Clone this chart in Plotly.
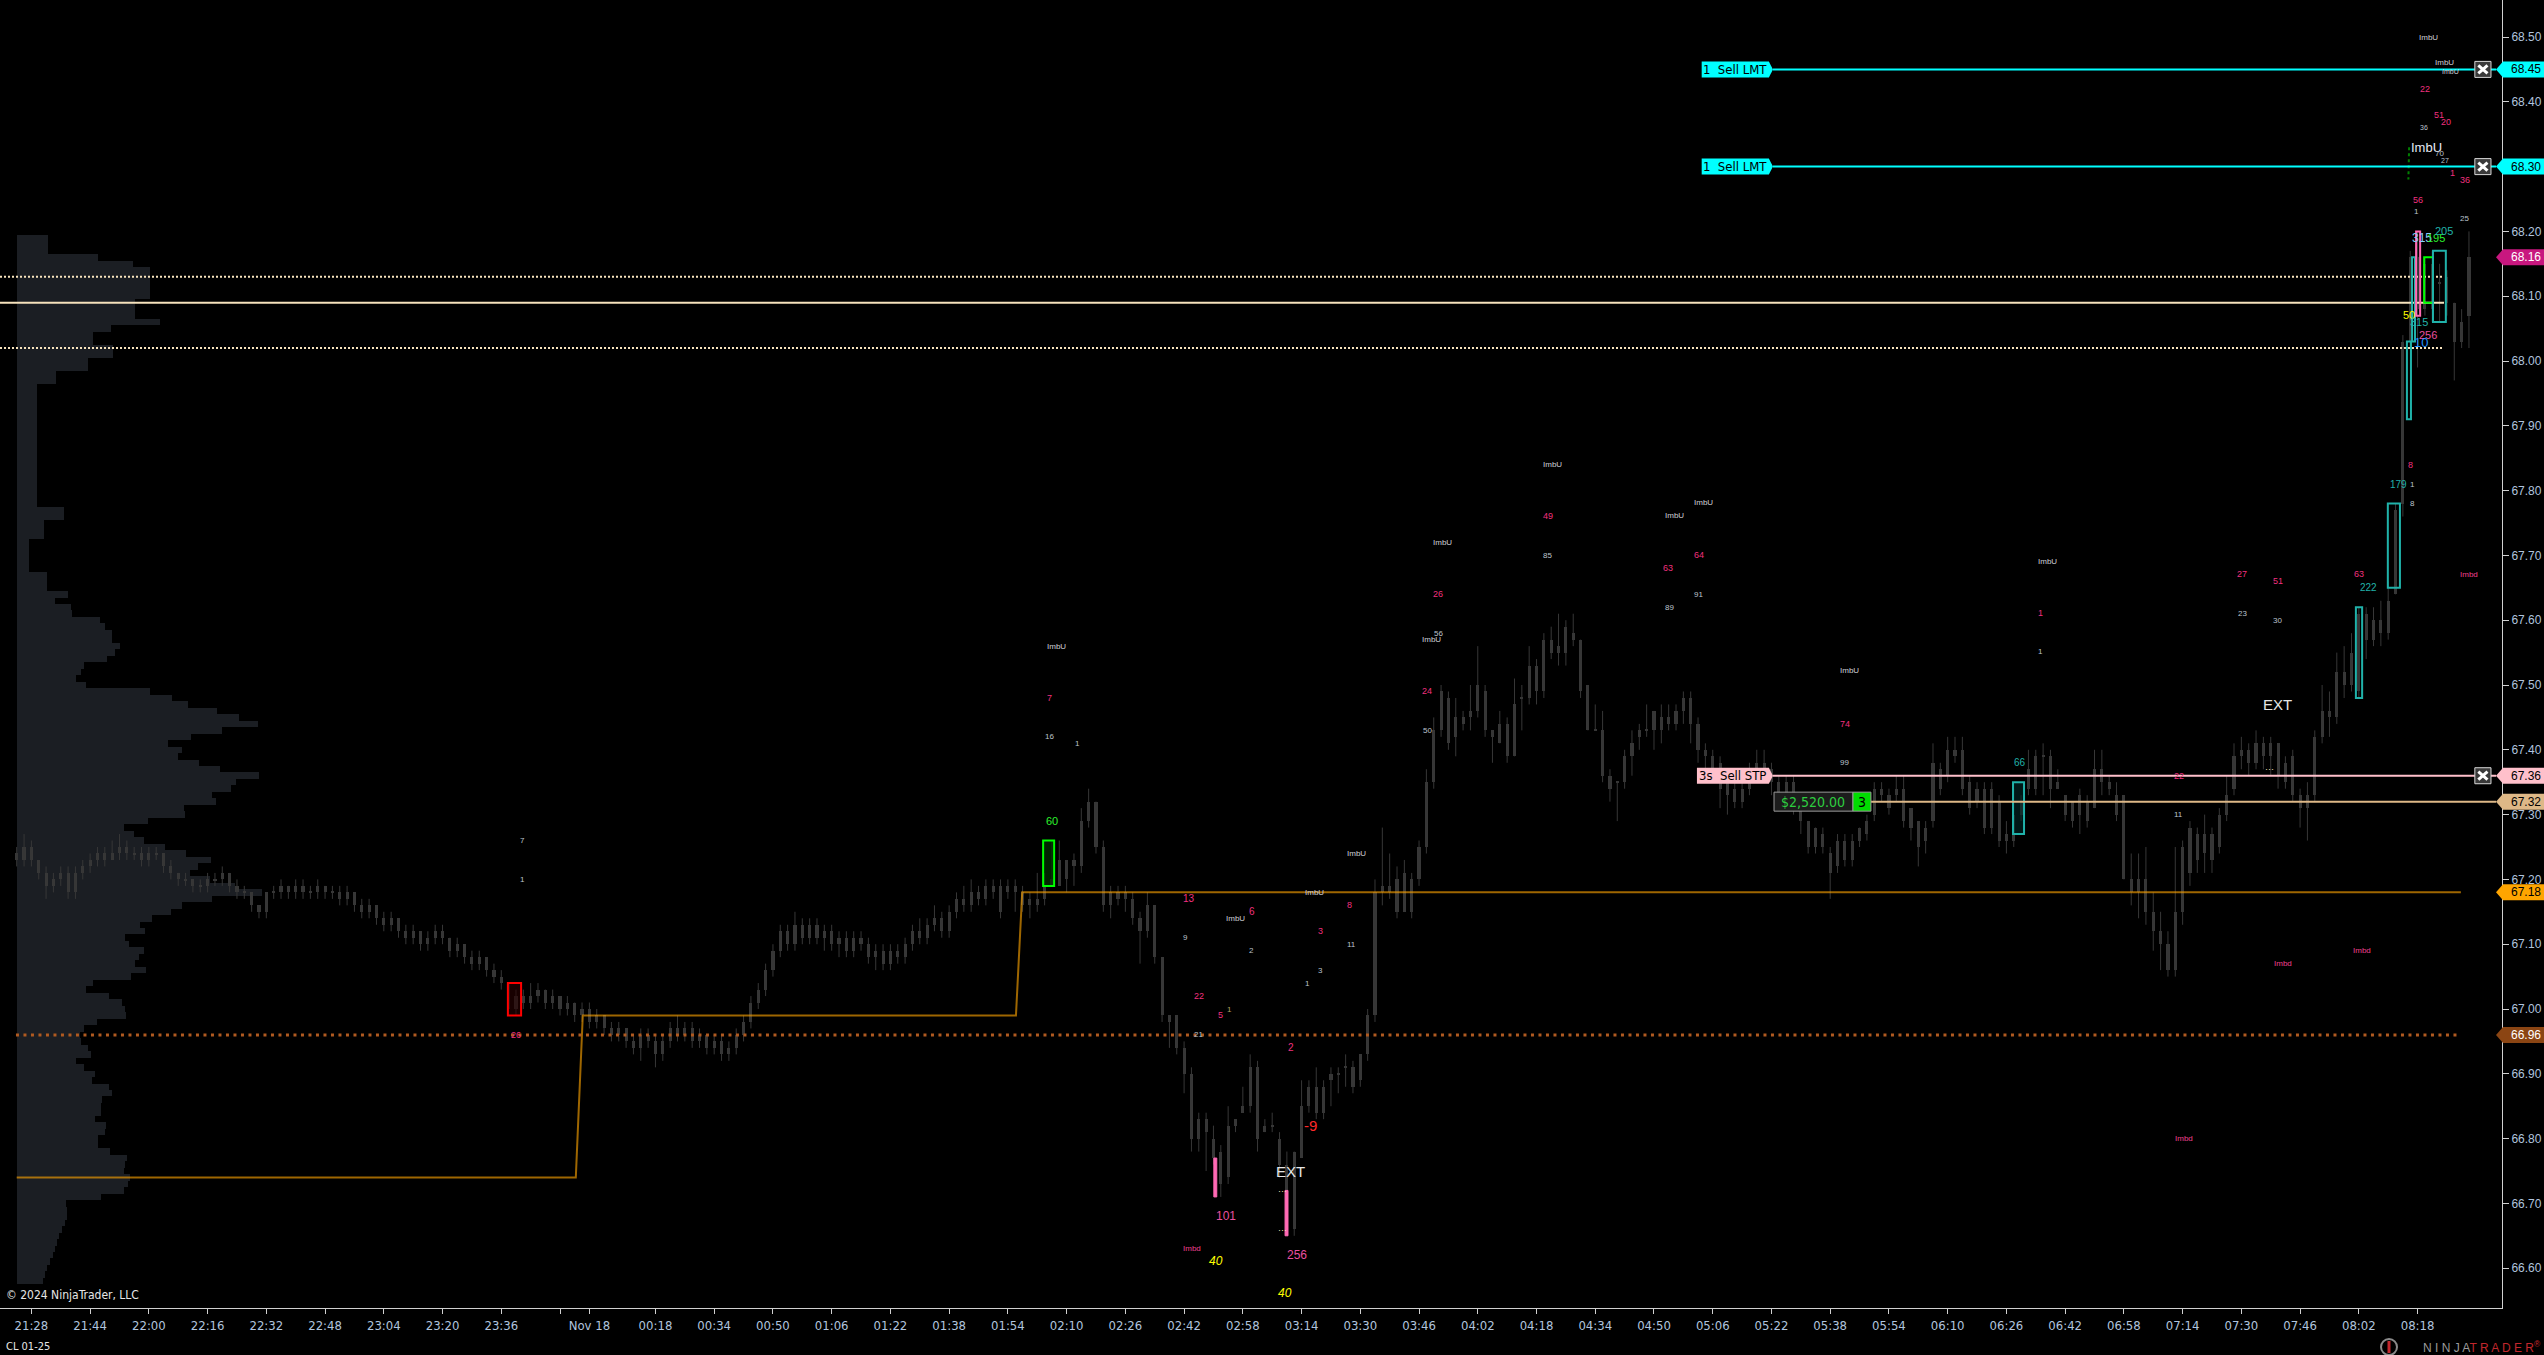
import plotly.graph_objects as go

# ------------------------------------------------------------------ data
# 2-minute bars, time axis in minutes after 21:28 ; prices in cents above 66.00
BAR_T0 = -4          # first bar at 21:24
BAR_STEP = 2
opens_c = [124,123,125,123,121,119,121,121,118,121,122,123,124,123,124,125,124,124,123,124,
           124,122,121,120,120,119,119,120,120,121,119,118,118,116,115,118,118,119,118,119,
           118,118,119,118,118,117,118,116,115,116,114,113,114,112,111,112,110,111,112,111,
           109,110,108,107,108,106,105,104,100,102,101,102,103,101,102,100,101,99,100,98,
           99,97,96,97,95,94,96,95,93,95,97,96,97,95,96,94,95,93,94,96,
           98,101,103,106,109,112,110,113,111,113,111,112,110,111,109,111,110,108,109,107,
           109,108,110,112,111,113,114,112,115,117,116,118,117,119,119,118,118,118,116,117,
           117,119,119,123,123,122,129,132,125,116,118,118,117,114,112,116,108,99,99,94,
           90,80,83,80,78,74,83,84,85,91,81,82,80,76,66,77,85,84,88,89,
           90,91,88,89,93,99,118,119,120,115,120,120,125,135,143,148,142,145,145,146,
           149,143,141,144,139,148,148,153,149,157,155,155,158,157,150,143,143,136,135,135,
           139,142,143,143,145,144,144,146,148,144,140,139,138,136,134,132,134,136,138,137,
           135,133,135,131,129,125,127,124,122,126,123,126,127,130,134,133,133,134,131,129,
           126,129,137,136,140,140,135,134,134,128,132,127,126,130,134,134,139,139,134,133,
           132,130,132,131,137,135,133,133,120,118,120,115,112,110,106,115,121,127,124,127,
           125,130,134,139,140,138,141,139,141,138,139,133,131,133,142,146,145,152,150,149,
           161,157,160,158,164,178,203,216,208,215,212,213,209,203,207]
closes_c = [123,125,123,121,119,120,120,118,121,122,123,124,123,124,125,124,124,123,124,124,
            122,121,120,120,119,119,120,120,121,119,118,118,116,115,118,118,119,118,119,118,
            118,119,118,118,117,118,116,115,116,114,113,114,112,111,112,110,111,112,111,109,
            110,108,107,108,106,105,104,100,102,101,102,103,101,102,100,101,99,100,98,99,
            97,96,97,95,94,96,95,93,95,97,96,97,95,96,94,95,93,94,96,98,
            101,103,106,109,112,110,113,111,113,111,112,110,111,109,111,110,108,109,107,109,
            108,110,112,111,113,114,112,115,117,116,118,117,119,118,115,119,119,116,117,116,
            119,120,123,120,122,129,132,125,116,118,117,117,114,112,116,108,99,98,94,90,
            80,83,81,77,73,82,82,85,91,80,82,82,76,72,78,85,88,88,84,90,
            90,91,91,93,99,118,119,118,115,121,115,125,135,143,149,141,145,144,146,150,
            143,142,144,139,147,148,153,149,157,155,156,159,157,149,143,143,136,134,135,139,
            141,143,143,146,143,145,146,148,144,140,139,136,134,133,132,134,136,138,137,135,
            133,135,131,129,125,128,125,121,126,123,126,128,129,134,133,131,134,129,128,125,
            128,138,134,140,139,134,131,132,128,134,126,126,130,132,137,139,139,134,135,130,
            129,133,129,137,135,134,130,120,118,120,115,112,110,106,115,125,128,123,127,123,
            130,133,139,140,138,141,139,141,136,135,133,131,133,142,146,145,152,150,155,161,
            157,160,158,163,177,203,216,208,215,208,212,209,203,206,216]
highs_c = [125,127,126,123,122,121,122,122,122,123,124,125,125,126,127,126,125,125,125,125,
           124,123,121,121,120,120,121,121,122,121,120,119,118,116,118,119,120,119,120,120,
           119,120,119,119,119,119,118,117,117,116,115,115,114,113,113,112,112,113,113,111,
           111,110,109,109,108,107,106,104,103,103,104,104,103,103,102,102,101,101,101,100,
           99,98,98,97,96,97,97,96,96,98,99,98,98,97,96,96,96,95,97,99,
           102,104,107,110,113,113,115,114,114,114,113,113,112,112,112,112,111,110,110,110,
           110,111,113,114,114,116,115,116,118,119,120,119,120,120,120,120,120,119,118,121,
           121,126,126,123,124,131,134,132,126,119,119,119,118,115,118,116,108,99,99,95,
           91,84,84,82,79,85,83,88,93,92,83,84,81,78,78,89,89,91,89,91,
           91,93,92,93,100,120,128,124,122,123,121,126,137,145,150,149,148,146,150,156,
           150,143,146,145,151,150,156,154,158,159,161,160,161,157,150,147,146,137,135,140,
           143,144,147,146,147,147,147,149,149,145,141,140,139,137,135,136,138,140,140,138,
           136,136,136,132,129,128,128,125,127,127,127,128,130,135,135,134,136,136,131,129,
           129,141,138,142,142,142,136,135,135,135,133,129,134,133,140,140,141,140,137,133,
           132,134,133,140,140,136,135,133,124,124,125,118,115,112,125,126,129,128,130,128,
           131,136,141,142,141,143,142,142,141,139,140,134,135,143,150,149,155,156,158,162,
           162,162,163,166,178,204,217,220,216,217,215,214,209,208,220]
lows_c = [122,122,122,120,117,118,119,117,117,120,121,122,122,123,123,123,123,122,122,123,
          121,120,119,119,118,118,118,119,119,118,117,117,115,114,114,117,117,117,117,117,
          117,117,117,117,116,116,115,114,114,113,112,112,111,110,110,109,109,110,110,108,
          108,107,106,106,105,104,103,99,99,100,100,101,100,100,99,99,98,98,97,97,
          96,95,95,94,93,92,94,91,92,94,95,95,94,94,93,93,92,92,93,95,
          97,100,102,105,108,109,109,110,110,110,109,109,108,108,108,109,107,106,106,106,
          107,107,109,110,110,112,111,111,114,115,115,116,116,117,114,117,115,115,114,115,
          116,119,119,118,119,121,128,124,115,114,116,115,113,107,111,107,98,94,93,87,
          78,78,75,76,71,73,81,84,84,78,81,81,74,71,65,77,84,83,83,85,
          87,88,87,88,92,98,116,117,114,115,114,119,124,134,142,140,139,143,143,145,
          142,138,141,138,139,143,147,147,148,154,153,153,156,148,143,143,135,132,129,134,
          136,140,142,140,141,143,143,144,141,138,137,135,131,130,131,131,133,135,135,133,
          131,132,130,127,124,124,124,117,121,122,122,125,126,129,132,130,132,128,126,122,
          124,128,133,135,138,133,130,131,127,127,125,124,125,129,133,133,133,131,134,129,
          128,127,128,131,133,133,129,120,116,114,113,109,106,105,105,113,119,121,121,121,
          124,129,133,137,136,137,137,136,134,134,132,128,126,132,141,142,144,148,149,148,
          154,156,156,157,164,176,202,199,207,206,206,207,197,202,202]

# Volume profile, one row per 0.01 tick from the top price downward
PROFILE_TOP = 68.19
TICK = 0.01
profile_volume = [31,31,31,81,116,133,133,133,133,133,118,118,118,143,94,76,76,96,96,71,
                  71,39,39,20,20,20,20,20,20,20,20,20,20,20,20,20,20,20,20,20,
                  20,20,47,47,27,27,27,12,12,12,12,12,30,30,30,51,38,54,55,83,
                  88,95,95,103,98,90,67,64,59,69,133,155,171,200,222,241,205,174,151,165,
                  161,182,203,242,219,214,195,199,167,168,131,107,117,127,148,169,194,181,173,193,
                  218,245,195,165,154,135,123,128,108,112,127,122,118,129,114,76,69,92,105,108,
                  109,80,67,63,64,71,74,59,67,78,75,92,95,85,84,84,78,89,88,81,
                  81,93,110,108,107,113,111,107,84,49,50,50,48,45,42,40,38,36,33,30,
                  28,26]

# developing level line (step line)
level_t = [-4, 148.3, 150.2, 268.2, 269.9, 661.8]
level_p = [66.74, 66.74, 66.99, 66.99, 67.18, 67.18]

# x-axis ticks (minutes after 21:28)
x_tickvals = [0,16,32,48,64,80,96,112,128,144,152,170,186,202,218,234,250,266,282,298,
              314,330,346,362,378,394,410,426,442,458,474,490,506,522,538,554,570,586,602,618,
              634,650]
x_ticktext = ["21:28","21:44","22:00","22:16","22:32","22:48","23:04","23:20","23:36"," ","Nov 18",
              "00:18","00:34","00:50","01:06","01:22","01:38","01:54","02:10","02:26","02:42",
              "02:58","03:14","03:30","03:46","04:02","04:18","04:34","04:50","05:06","05:22",
              "05:38","05:54","06:10","06:26","06:42","06:58","07:14","07:30","07:46","08:02","08:18"]
y_tickvals = [66.6,66.7,66.8,66.9,67.0,67.1,67.2,67.3,67.4,67.5,67.6,67.7,67.8,67.9,68.0,
              68.1,68.2,68.3,68.4,68.5]
y_ticktext = ["66.60","66.70","66.80","66.90","67.00","67.10","67.20","67.30","67.40","67.50",
              "67.60","67.70","67.80","67.90","68.00","68.10","68.20","68.30","68.40","68.50"]

# price tags on the right axis
tag_prices = [68.45, 68.30, 68.16, 67.36, 67.32, 67.18, 66.96]
tag_fill = ["#00ffff", "#00ffff", "#c8177f", "#ffc0cb", "#deb887", "#ffa500", "#8b4513"]
tag_text = ["#000000", "#000000", "#ffffff", "#000000", "#000000", "#000000", "#ffffff"]

# ------------------------------------------------------------------ style
X0, X1 = -8.55, 673.0
Y0, Y1 = 66.5386, 68.5571
PLOT_W, PLOT_H = 2502, 1308
BG = "#000000"
CANDLE = "#373737"
PROFILE = "#1b1e23"
AXIS = "#d0d0d0"
TICKC = "#b0c4de"
PINK = "#f0307f"
PINK2 = "#e8509f"
GREY = "#bcc4ce"
IMBU = "#d0d0d8"
IMBD = "#f0408e"
TEAL = "#20b2aa"
LIME = "#2cf02c"
YELLOW = "#ffff00"
NARROW = "Liberation Sans Narrow, Arial Narrow, DejaVu Sans Condensed, sans-serif"
SANS = "Liberation Sans, Arial, sans-serif"

PX_T = (X1 - X0) / PLOT_W        # minutes per pixel
PX_P = (Y1 - Y0) / PLOT_H        # price per pixel


def ypap(p):
    return (p - Y0) / (Y1 - Y0)


# ------------------------------------------------------------------ traces
fig = go.Figure()

profile_prices = [round(PROFILE_TOP - TICK * k, 2) for k in range(len(profile_volume))]
PROFILE_T0 = BAR_T0 + 0.1
fig.add_trace(go.Bar(orientation="h", y=profile_prices, x=[v * PX_T for v in profile_volume],
                     base=PROFILE_T0, width=TICK, marker=dict(color=PROFILE, line=dict(width=0)),
                     hoverinfo="skip", showlegend=False))

t_bars = [BAR_T0 + BAR_STEP * i for i in range(len(closes_c))]
o = [66 + v / 100 for v in opens_c]
c = [66 + v / 100 for v in closes_c]
h = [66 + v / 100 for v in highs_c]
lo = [66 + v / 100 for v in lows_c]
wx, wy = [], []
for t, hh, ll in zip(t_bars, h, lo):
    wx += [t, t, None]
    wy += [ll, hh, None]
fig.add_trace(go.Scatter(x=wx, y=wy, mode="lines", line=dict(color=CANDLE, width=1),
                         hoverinfo="skip", showlegend=False))
base = []
hgt = []
for a, b in zip(o, c):
    if abs(a - b) < 1e-9:
        base.append(a - 0.6 * PX_P)
        hgt.append(1.2 * PX_P)
    else:
        base.append(min(a, b))
        hgt.append(abs(a - b))
fig.add_trace(go.Bar(x=t_bars, y=hgt, base=base, width=0.85,
                     marker=dict(color=CANDLE, line=dict(width=0)),
                     hoverinfo="skip", showlegend=False))

fig.add_trace(go.Scatter(x=level_t, y=level_p, mode="lines",
                         line=dict(color="rgba(255,165,0,0.62)", width=2),
                         hoverinfo="skip", showlegend=False))

# ------------------------------------------------------------------ shapes
shapes = []


def hline(p, t0, t1, color, width=2, dash=None):
    d = dict(type="line", xref="x", yref="y", x0=t0, x1=t1, y0=p, y1=p,
             line=dict(color=color, width=width), layer="above")
    if dash:
        d["line"]["dash"] = dash
    shapes.append(d)


def rect(t0, t1, p0, p1, color, fill="rgba(0,0,0,0)", width=2):
    shapes.append(dict(type="rect", xref="x", yref="y", x0=t0, x1=t1, y0=p0, y1=p1,
                       line=dict(color=color, width=width), fillcolor=fill, layer="above"))


CREAM = "#f6e2bc"
hline(68.13, X0, 657.2, CREAM, 2, "2px,2px")
hline(68.09, X0, 657.2, CREAM, 2)
hline(68.02, X0, 657.2, CREAM, 2, "2px,2px")
hline(66.96, -4.2, 661.8, "#b05a20", 3, "3px,4.5px")

# highlight boxes
rect(129.8, 133.4, 66.99, 67.04, "#ff0000", "rgba(40,0,0,0.6)")
rect(275.6, 278.6, 67.19, 67.26, "#00ff00", "rgba(0,50,0,0.7)")
rect(322.1, 322.9, 66.71, 66.77, "#ff69b4", "#ff69b4", 1)
rect(341.5, 342.3, 66.65, 66.72, "#ff69b4", "#ff69b4", 1)
rect(539.8, 542.8, 67.27, 67.35, TEAL, "rgba(0,40,40,0.6)")
rect(633.2, 634.9, 67.48, 67.62, TEAL)
rect(641.9, 645.2, 67.65, 67.78, TEAL)
rect(647.1, 648.2, 67.91, 68.03, TEAL)
rect(648.5, 649.3, 68.03, 68.16, TEAL)
rect(649.6, 650.7, 68.07, 68.20, "#ff69b4")
rect(651.8, 654.2, 68.09, 68.16, "#00ff00")
rect(654.2, 657.7, 68.06, 68.17, TEAL)
shapes.append(dict(type="line", xref="x", yref="y", x0=647.7, x1=647.5, y0=68.33, y1=68.28,
                   line=dict(color="#008000", width=2, dash="3px,3px"), layer="above"))

# order lines
LBL_H = 8 * PX_P
TIP_T = 671.4
for p, col in [(68.45, "#00ffff"), (68.30, "#00ffff")]:
    hline(p, 474.4, TIP_T, col, 2)
hline(67.36, 474.4, TIP_T, "#ffc0cb", 2)
hline(67.32, 501.1, TIP_T, "#deb887", 2)


def label_box(t0, t1, tip, p, fill):
    shapes.append(dict(type="path", xref="x", yref="y",
                       path=f"M {t0},{p - LBL_H} L {t1},{p - LBL_H} L {tip},{p} L {t1},{p + LBL_H} L {t0},{p + LBL_H} Z",
                       fillcolor=fill, line=dict(width=0), layer="above"))


label_box(455.0, 473.3, 474.4, 68.45, "#00ffff")
label_box(455.0, 473.3, 474.4, 68.30, "#00ffff")
label_box(453.7, 473.3, 474.4, 67.36, "#ffc0cb")

# PnL box
rect(474.7, 496.2, 67.32 - 9.5 * PX_P, 67.32 + 9.5 * PX_P, "#9a9a9a", "#1c1c1c", 1)
rect(496.2, 501.1, 67.32 - 9.5 * PX_P, 67.32 + 9.5 * PX_P, "#9a9a9a", "#00dd00", 1)

# close buttons
for p in [68.45, 68.30, 67.36]:
    rect(665.6, 670.0, p - LBL_H, p + LBL_H, "#d8d8d8", "#3a3a3a", 1)
    ix, iy = 3.5 * PX_T, 4 * PX_P
    shapes.append(dict(type="line", xref="x", yref="y", x0=665.6 + ix, x1=670.0 - ix,
                       y0=p - iy, y1=p + iy, line=dict(color="#ffffff", width=3), layer="above"))
    shapes.append(dict(type="line", xref="x", yref="y", x0=665.6 + ix, x1=670.0 - ix,
                       y0=p + iy, y1=p - iy, line=dict(color="#ffffff", width=3), layer="above"))

# right-axis price tags
xt, xr0, xr1 = 2496 / PLOT_W, 2503 / PLOT_W, 2544 / PLOT_W
hh_ = 8 / PLOT_H
for p, fc in zip(tag_prices, tag_fill):
    yc = ypap(p)
    shapes.append(dict(type="path", xref="paper", yref="paper",
                       path=f"M {xt},{yc} L {xr0},{yc + hh_} L {xr1},{yc + hh_} L {xr1},{yc - hh_} L {xr0},{yc - hh_} Z",
                       fillcolor=fc, line=dict(width=0), layer="above"))

# logo icon
shapes.append(dict(type="circle", xref="paper", yref="paper",
                   x0=2381 / PLOT_W, x1=2397 / PLOT_W, y0=(1308 - 1355) / PLOT_H, y1=(1308 - 1339) / PLOT_H,
                   line=dict(color="#8a8a8a", width=2), fillcolor="rgba(0,0,0,0)", layer="above"))
shapes.append(dict(type="line", xref="paper", yref="paper",
                   x0=2389 / PLOT_W, x1=2389 / PLOT_W, y0=(1308 - 1353) / PLOT_H, y1=(1308 - 1341) / PLOT_H,
                   line=dict(color="#c1272d", width=3), layer="above"))

# ------------------------------------------------------------------ annotations
anns = []


def txt(s, t, p, color, size, family=SANS):
    anns.append(dict(text=s, x=t, y=p, xref="x", yref="y", showarrow=False,
                     xanchor="center", yanchor="middle",
                     font=dict(color=color, size=size, family=family)))


labels = [
    ("ImbU", 653.0, 68.50, IMBU, 8), ("ImbU", 657.2, 68.46, IMBU, 8), ("ImbU", 658.9, 68.447, IMBU, 7),
    ("22", 652.0, 68.42, PINK, 9), ("51", 655.9, 68.38, PINK, 9), ("20", 657.8, 68.369, PINK, 9),
    ("36", 651.8, 68.361, GREY, 7), ("ImbU", 652.3, 68.33, "#e6eaf5", 13), ("70", 656.0, 68.32, GREY, 8),
    ("27", 657.5, 68.31, GREY, 7), ("1", 659.5, 68.29, PINK, 9), ("36", 662.8, 68.28, PINK, 9),
    ("56", 650.0, 68.249, PINK, 9), ("1", 649.6, 68.231, GREY, 8), ("25", 662.7, 68.22, GREY, 8),
    ("315", 651.3, 68.19, "#87cefa", 12), ("195", 655.0, 68.19, LIME, 11), ("205", 657.3, 68.20, TEAL, 11),
    ("50", 647.6, 68.071, YELLOW, 11), ("315", 650.3, 68.06, TEAL, 11), ("256", 652.8, 68.04, PINK2, 11),
    ("10", 650.9, 68.029, "#1e90ff", 13),
    ("8", 648.2, 67.84, PINK, 9), ("1", 648.6, 67.81, GREY, 8), ("179", 644.7, 67.81, TEAL, 10),
    ("8", 648.6, 67.78, GREY, 8), ("63", 634.0, 67.671, PINK, 9), ("222", 636.7, 67.651, TEAL, 10),
    ("27", 602.2, 67.671, PINK, 9), ("23", 602.2, 67.611, GREY, 8), ("51", 611.9, 67.66, PINK, 9),
    ("30", 611.9, 67.60, GREY, 8), ("Imbd", 664.1, 67.671, IMBD, 8), ("EXT", 611.9, 67.47, "#e6e6e6", 15),
    ("···", 609.6, 67.37, "#f6e2bc", 9),
    ("ImbU", 549.2, 67.69, IMBU, 8), ("1", 547.4, 67.611, PINK, 9), ("1", 547.4, 67.551, GREY, 8),
    ("66", 541.7, 67.38, TEAL, 10), ("22", 585.0, 67.36, PINK, 9), ("11", 584.9, 67.30, GREY, 8),
    ("Imbd", 613.3, 67.07, IMBD, 8), ("Imbd", 634.9, 67.09, IMBD, 8), ("Imbd", 586.3, 66.80, IMBD, 8),
    ("ImbU", 495.3, 67.523, IMBU, 8), ("74", 494.0, 67.44, PINK, 9), ("99", 493.9, 67.38, GREY, 8),
    ("ImbU", 447.5, 67.761, IMBU, 8), ("ImbU", 455.5, 67.781, IMBU, 8), ("63", 445.8, 67.68, PINK, 9),
    ("64", 454.2, 67.70, PINK, 9), ("89", 446.2, 67.62, GREY, 8), ("91", 454.2, 67.64, GREY, 8),
    ("ImbU", 414.4, 67.841, IMBU, 8), ("49", 413.1, 67.761, PINK, 9), ("85", 413.1, 67.70, GREY, 8),
    ("ImbU", 384.3, 67.72, IMBU, 8), ("26", 383.2, 67.64, PINK, 9), ("56", 383.2, 67.58, GREY, 8),
    ("ImbU", 381.5, 67.57, IMBU, 8), ("24", 380.2, 67.49, PINK, 9), ("50", 380.2, 67.43, GREY, 8),
    ("ImbU", 279.2, 67.56, IMBU, 8), ("7", 277.4, 67.48, PINK, 9), ("16", 277.4, 67.42, GREY, 8),
    ("1", 284.9, 67.41, GREY, 8), ("60", 277.9, 67.29, LIME, 11),
    ("7", 133.8, 67.26, GREY, 8), ("1", 133.8, 67.20, GREY, 8), ("26", 132.0, 66.96, PINK, 9),
    ("13", 315.2, 67.17, PINK, 10), ("9", 314.3, 67.11, GREY, 8), ("ImbU", 328.1, 67.14, IMBU, 8),
    ("6", 332.4, 67.15, PINK, 10), ("2", 332.3, 67.09, GREY, 8), ("ImbU", 349.4, 67.18, IMBU, 8),
    ("8", 359.1, 67.16, PINK, 9), ("11", 359.6, 67.10, GREY, 8), ("ImbU", 360.9, 67.24, IMBU, 8),
    ("3", 351.2, 67.12, PINK, 9), ("3", 351.2, 67.06, GREY, 8), ("1", 347.7, 67.04, GREY, 8),
    ("22", 318.1, 67.02, PINK, 9), ("5", 324.0, 66.99, PINK, 9), ("1", 326.3, 67.00, "#b0a060", 8),
    ("21", 318.0, 66.96, GREY, 8), ("2", 343.0, 66.94, PINK, 10), ("-9", 348.3, 66.82, "#ff2a2a", 15),
    ("EXT", 343.1, 66.75, "#e6e6e6", 15), ("···", 340.7, 66.719, "#f6e2bc", 9),
    ("···", 340.7, 66.659, "#f6e2bc", 9),
    ("101", 325.4, 66.68, PINK2, 12), ("256", 344.8, 66.62, PINK2, 12), ("Imbd", 316.2, 66.63, IMBD, 8),
    ("<i>40</i>", 322.7, 66.611, YELLOW, 12), ("<i>40</i>", 341.5, 66.561, YELLOW, 12),
]
for s, t, p, col, sz in labels:
    txt(s, t, p, col, sz)

# order label texts
txt("1  Sell LMT", 464.0, 68.45, "#000000", 13, NARROW)
txt("1  Sell LMT", 464.0, 68.30, "#000000", 13, NARROW)
txt("3s  Sell STP", 463.3, 67.36, "#000000", 13, NARROW)
txt("$2,520.00", 485.4, 67.32, "#2ecc40", 14, NARROW)
txt("3", 498.65, 67.32, "#000000", 14, NARROW)

# tag texts
for p, tc in zip(tag_prices, tag_text):
    anns.append(dict(text=f"{p:.2f}", x=2526 / PLOT_W, y=p, xref="paper", yref="y",
                     xanchor="center", yanchor="middle",
                     showarrow=False, font=dict(color=tc, size=12, family=SANS)))

anns.append(dict(text="© 2024 NinjaTrader, LLC", x=4 / PLOT_W, y=(1308 - 1295) / PLOT_H,
                 xref="paper", yref="paper", xanchor="left", yanchor="middle", showarrow=False,
                 font=dict(color="#e6e6e6", size=12, family=NARROW)))
anns.append(dict(text="CL 01-25", x=4 / PLOT_W, y=(1308 - 1346) / PLOT_H,
                 xref="paper", yref="paper", xanchor="left", yanchor="middle", showarrow=False,
                 font=dict(color="#e6e6e6", size=11, family=NARROW)))
anns.append(dict(text='<span style="color:#9a9a9a">N I N J A</span><span style="color:#c1272d">T R A D E R</span><sup>®</sup>',
                 x=2543 / PLOT_W, y=(1308 - 1347) / PLOT_H, xref="paper", yref="paper",
                 xanchor="right", yanchor="middle", showarrow=False,
                 font=dict(color="#c1272d", size=12, family=SANS)))

# ------------------------------------------------------------------ layout
fig.update_layout(
    width=2544, height=1355, autosize=False,
    margin=dict(l=0, r=42, t=0, b=47, pad=0),
    paper_bgcolor=BG, plot_bgcolor=BG,
    barmode="overlay", bargap=0, showlegend=False,
    shapes=shapes, annotations=anns,
    xaxis=dict(range=[X0, X1], showgrid=False, zeroline=False, showline=True, linecolor=AXIS,
               linewidth=1, ticks="outside", ticklen=5, tickcolor=AXIS, tickvals=x_tickvals,
               ticktext=x_ticktext, tickfont=dict(color=TICKC, size=13, family=NARROW),
               fixedrange=True),
    yaxis=dict(range=[Y0, Y1], side="right", showgrid=False, zeroline=False, showline=True,
               linecolor=AXIS, linewidth=1, ticks="outside", ticklen=6, tickcolor=AXIS,
               tickvals=y_tickvals, ticktext=y_ticktext,
               tickfont=dict(color=TICKC, size=12, family=SANS), fixedrange=True),
)

PAGE_JS = ("document.body.style.margin='0';document.body.style.padding='0';"
           "document.body.style.background='#000';document.body.style.overflow='hidden';"
           "document.documentElement.style.background='#000';")
fig.write_html("out.html", post_script=PAGE_JS, config={"displayModeBar": False})
